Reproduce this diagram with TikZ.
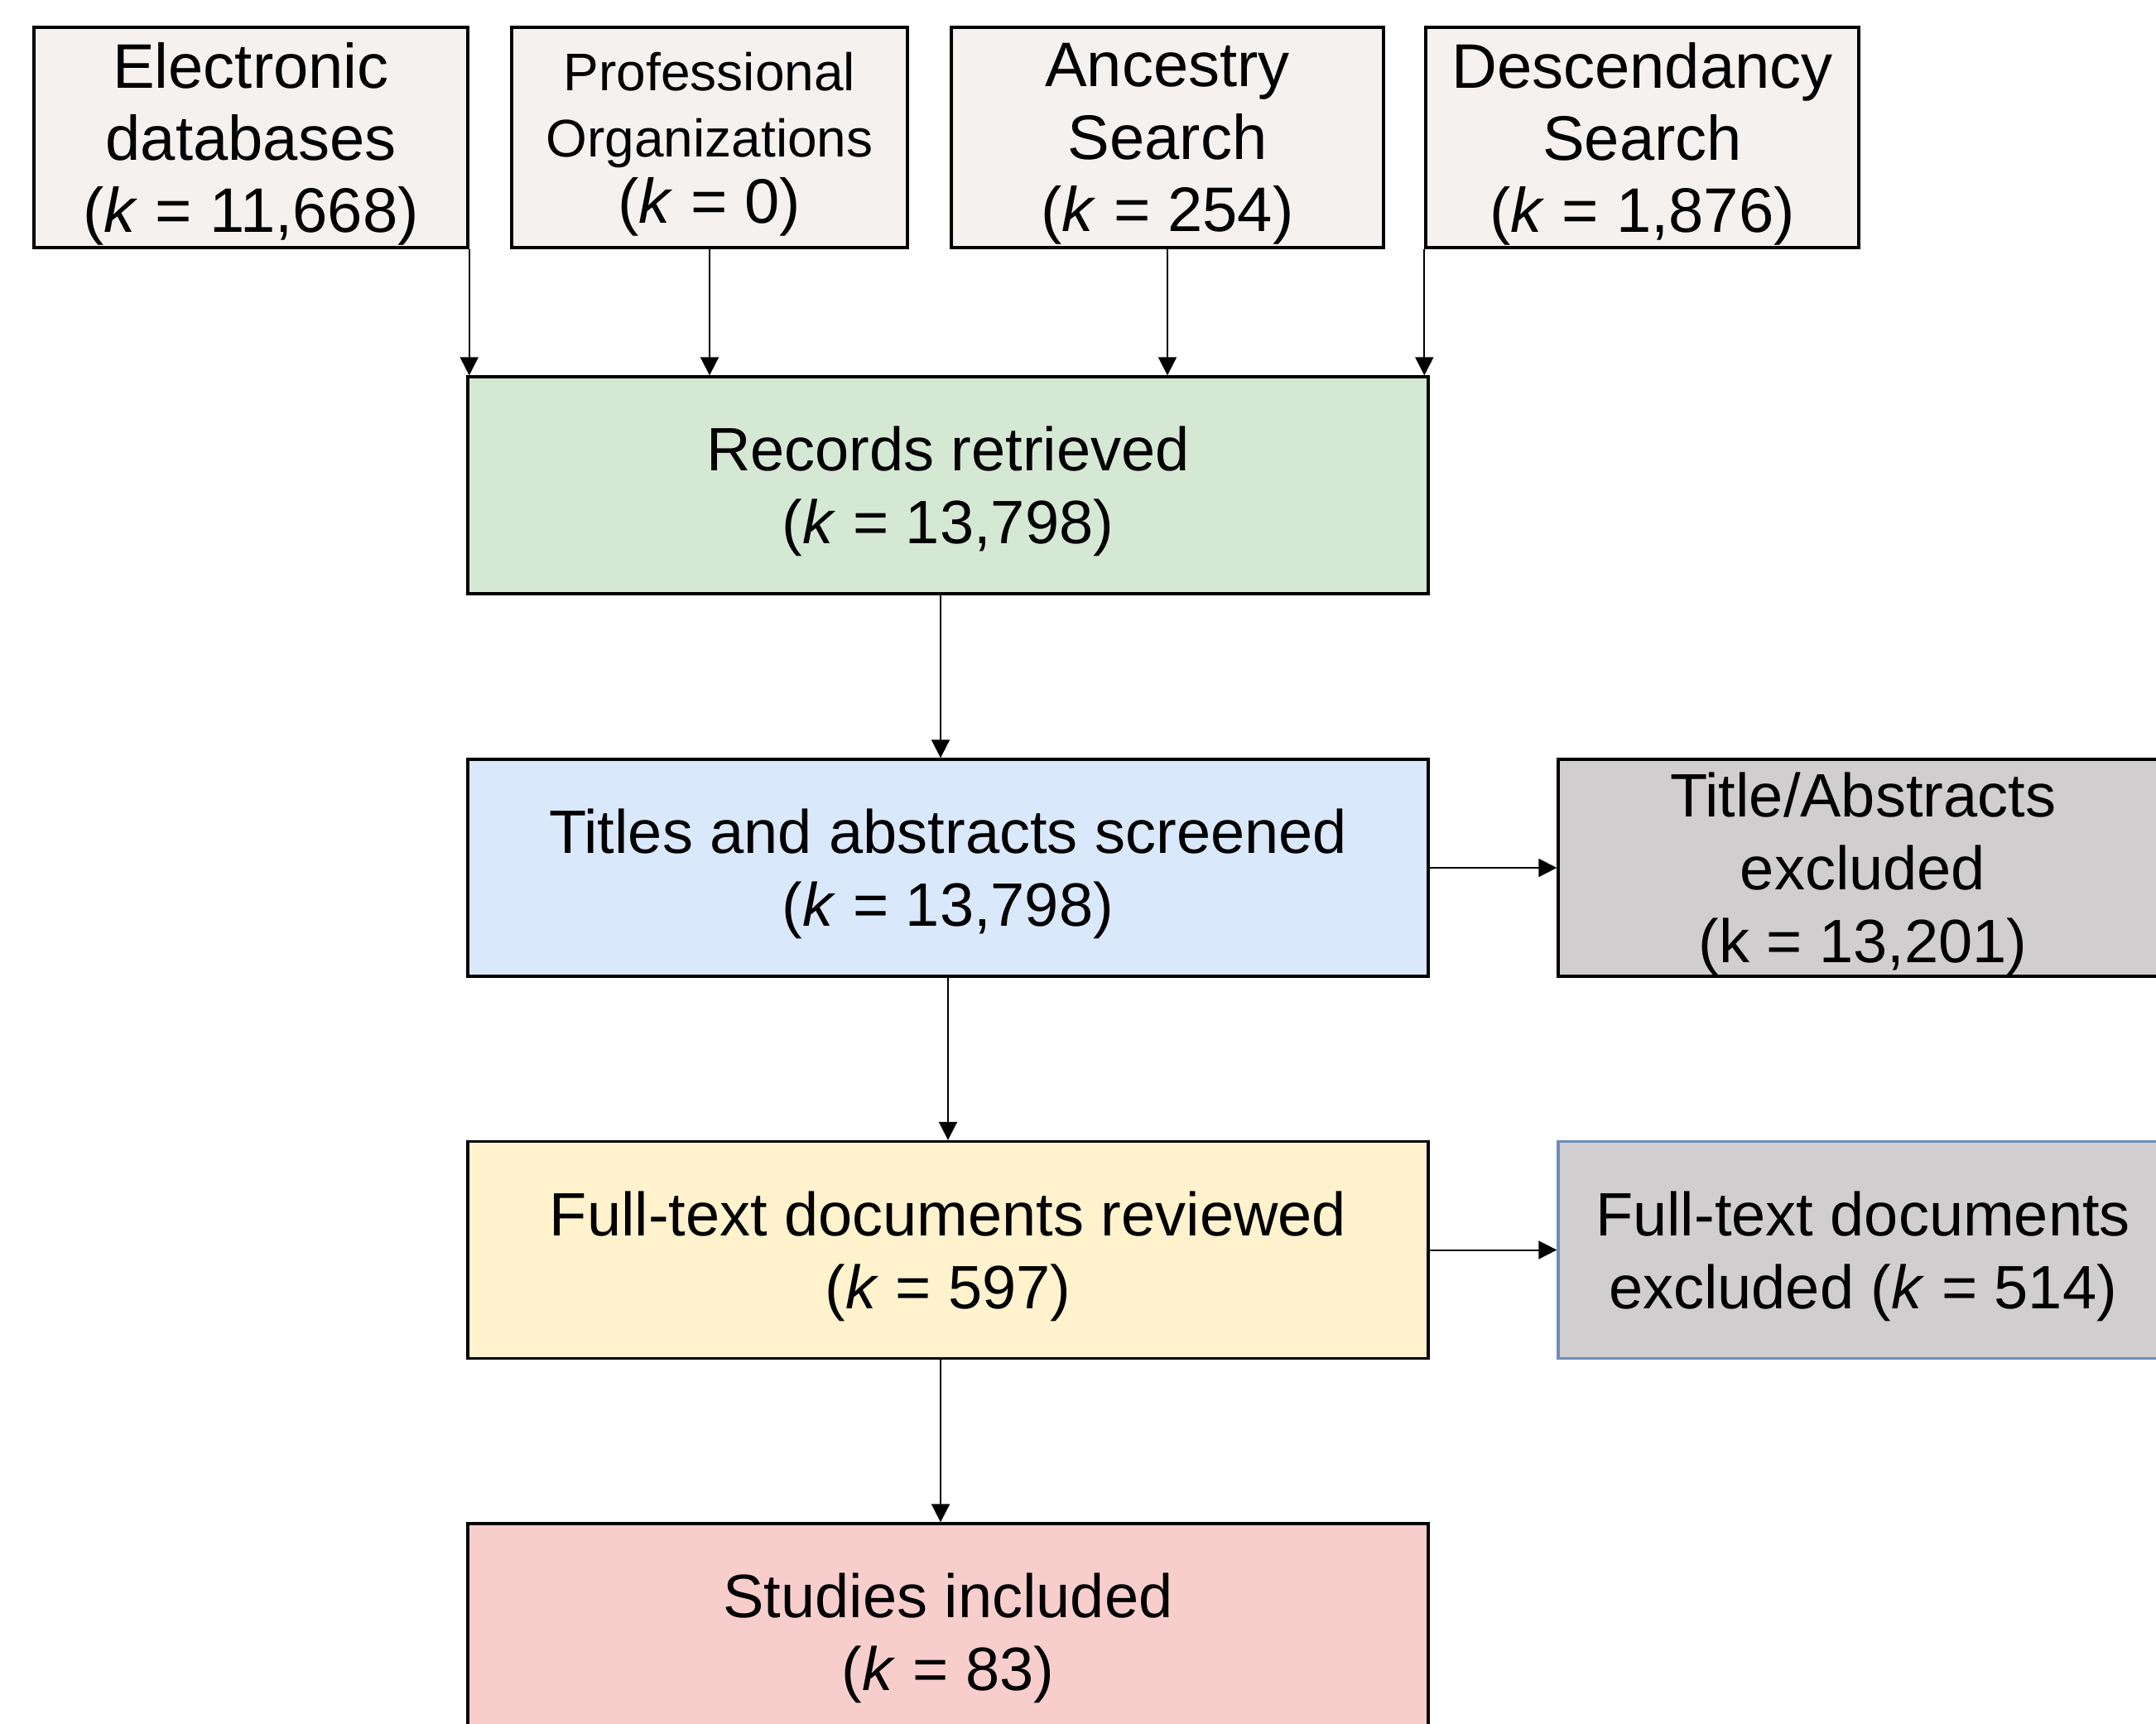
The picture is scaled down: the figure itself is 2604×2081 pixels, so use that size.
\documentclass[tikz,border=0pt]{standalone}
\usepackage{fontspec}
\setmainfont{Liberation Sans}
\usetikzlibrary{arrows.meta}

\definecolor{srcfill}{HTML}{F4F1EE}
\definecolor{recfill}{HTML}{D5E8D4}
\definecolor{scrfill}{HTML}{DAE8FC}
\definecolor{fulfill}{HTML}{FFF2CC}
\definecolor{incfill}{HTML}{F8CECC}
\definecolor{excfill}{HTML}{D0CECE}
\definecolor{excline}{HTML}{6C8EBF}

\tikzset{every picture/.style={line width=0.5pt}}
\tikzset{
  srcbox/.style={draw, line width=0.85pt, fill=srcfill, minimum height=66.5pt,
    inner sep=0pt, text depth=0pt, align=center, font=\fontsize{19}{21.8}\selectfont},
  stepbox/.style={draw, line width=0.85pt, minimum width=290pt, minimum height=65.5pt,
    inner sep=0pt, text depth=0pt, align=center, font=\fontsize{18.5}{22}\selectfont},
  exclbox/.style={stepbox, fill=excfill, minimum width=184pt},
  flow/.style={-{Triangle[length=5.5pt,width=5.5pt]}}
}

\begin{document}
\begin{tikzpicture}[x=0.25pt,y=0.25pt,yscale=-1]
  \useasboundingbox (0,0) rectangle (2604,2081);
  \clip (0,0) rectangle (2604,2081);

  %Sources
  \node [srcbox, minimum width=131pt] (elec) at (303,166) {Electronic\\databases\\(\textit{k} = 11,668)};
  \node [srcbox, minimum width=119.5pt, font=\fontsize{16}{20}\selectfont] (prof) at (857,166) {Professional\\Organizations\\{\fontsize{19}{20}\selectfont(\textit{k} = 0)}};
  \node [srcbox, minimum width=130.5pt] (anc) at (1410,166) {Ancestry\\Search\\(\textit{k} = 254)};
  \node [srcbox, minimum width=130.75pt] (desc) at (1983.5,166) {Descendancy\\Search\\(\textit{k} = 1,876)};

  %Main flow
  \node [stepbox, fill=recfill] (rec) at (1145,586) {Records retrieved\\(\textit{k} = 13,798)};
  \node [stepbox, fill=scrfill] (scr) at (1145,1048) {Titles and abstracts screened\\(\textit{k} = 13,798)};
  \node [stepbox, fill=fulfill] (ful) at (1145,1509.5) {Full-text documents reviewed\\(\textit{k} = 597)};
  \node [stepbox, fill=incfill] (inc) at (1145,1971) {Studies included\\(\textit{k} = 83)};

  %Exclusions
  \node [exclbox] (exa) at (2250,1048) {Title/Abstracts\\excluded\\(k = 13,201)};
  \node [exclbox, draw=excline] (exf) at (2250,1509.5) {Full-text documents\\excluded (\textit{k} = 514)};

  %Arrows
  \draw [flow] (elec.south east) -- (elec.south east |- rec.north);
  \draw [flow] (prof.south) -- (prof.south |- rec.north);
  \draw [flow] (anc.south) -- (anc.south |- rec.north);
  \draw [flow] (desc.south west) -- (desc.south west |- rec.north);
  \draw [flow] ([xshift=-2.25pt]rec.south) -- ([xshift=-2.25pt]scr.north);
  \draw [flow] (scr.south) -- (ful.north);
  \draw [flow] ([xshift=-2.25pt]ful.south) -- ([xshift=-2.25pt]inc.north);
  \draw [flow] (scr.east) -- (exa.west);
  \draw [flow] (ful.east) -- (exf.west);
\end{tikzpicture}
\end{document}
